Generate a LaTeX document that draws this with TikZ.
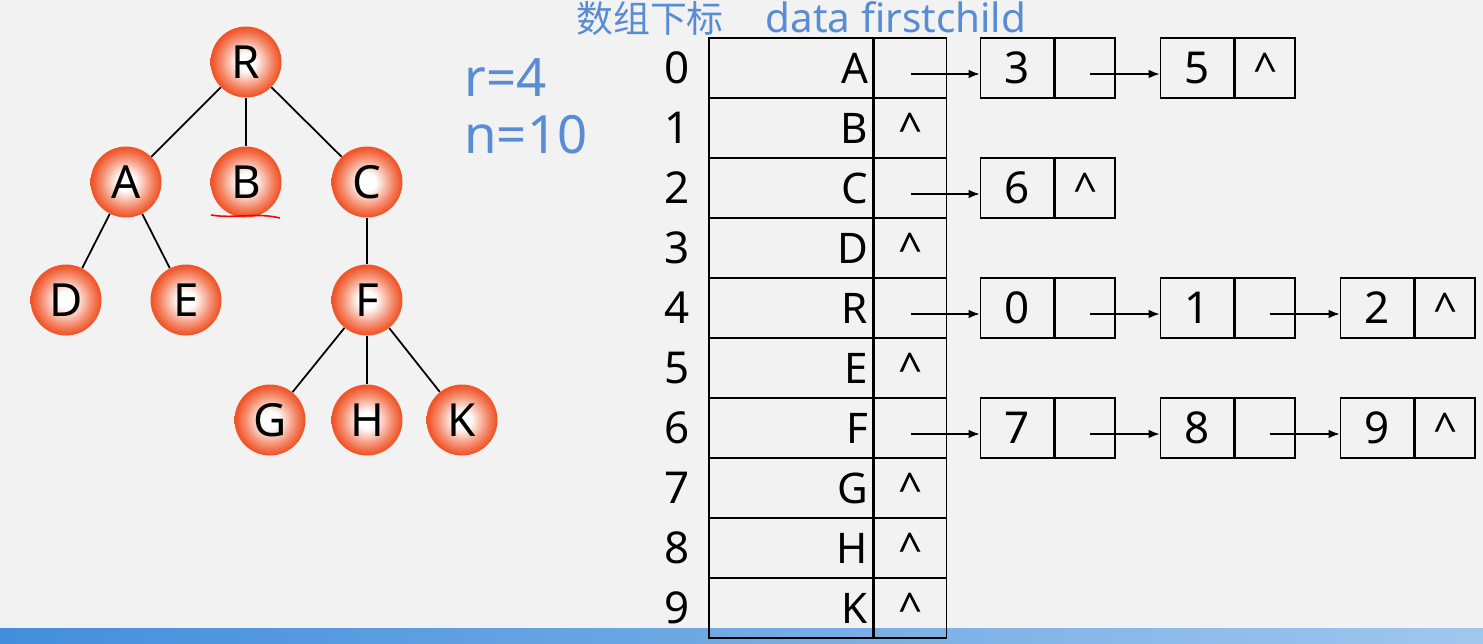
\documentclass[tikz,border=0pt]{standalone}
\usepackage{fontspec}
\setmainfont{Noto Sans}
\newfontfamily\cjk{Noto Sans CJK SC}
\usetikzlibrary{positioning,arrows.meta}

\definecolor{pagebg}{RGB}{242,242,242}
\definecolor{noteblue}{RGB}{88,140,212}
\definecolor{ballred}{RGB}{240,86,42}
\definecolor{barblue}{RGB}{66,142,220}
\pgfdeclareradialshading{redball}{\pgfpoint{0bp}{0bp}}{color(0bp)=(white); color(6bp)=(white); color(18bp)=(ballred!70!white); color(24bp)=(ballred); color(50bp)=(ballred)}

\newcommand{\nullsign}{\textasciicircum}

\tikzset{
  treenode/.style={circle, minimum size=1.42cm, inner sep=0pt, shade, shading=redball,
    font=\fontsize{26}{28}\selectfont},
  treeline/.style={line width=1pt},
  note/.style={text=noteblue, inner sep=0pt},
  datacell/.style={draw, line width=0.9pt, minimum height=1.2cm, text width=3.08cm,
    inner xsep=0.1cm, align=right, font=\fontsize{24}{26}\selectfont},
  linkcell/.style={draw, line width=0.9pt, minimum height=1.2cm, minimum width=1.44cm,
    inner sep=0pt, font=\fontsize{24}{26}\selectfont},
  indexnum/.style={inner sep=0pt, font=\fontsize{25}{27}\selectfont},
  numcell/.style={draw, line width=0.9pt, minimum height=1.2cm, minimum width=1.46cm,
    inner sep=0pt, font=\fontsize{25}{27}\selectfont},
  ptrcell/.style={draw, line width=0.9pt, minimum height=1.2cm, minimum width=1.2cm,
    inner sep=0pt, font=\fontsize{24}{26}\selectfont},
  link/.style={line width=0.9pt, -{Latex[length=0.22cm,width=0.17cm]}}
}

\begin{document}
\begin{tikzpicture}[x=0.02cm, y=-0.02cm]
  \useasboundingbox[fill=pagebg] (0,0) rectangle (1483,643);
  \fill[left color=barblue, right color=barblue!50!white] (0,628) rectangle (1483,643);

  % tree
  \draw
    (246,62) node[treenode] (R){R}
    (126,182) node[treenode] (A){A}
    (246,182) node[treenode] (B){B}
    (367,182) node[treenode] (C){C}
    (66,300) node[treenode] (D){D}
    (186,300) node[treenode] (E){E}
    (367,300) node[treenode] (F){F}
    (270,420) node[treenode] (G){G}
    (367,420) node[treenode] (H){H}
    (462,420) node[treenode] (K){K};
  \begin{scope}[treeline]
    \draw (R) to (A);
    \draw (R) to (B);
    \draw (R) to (C);
    \draw (A) to (D);
    \draw (A) to (E);
    \draw (C) to (F);
    \draw (F) to (G);
    \draw (F) to (H);
    \draw (F) to (K);
  \end{scope}
  \draw[red, line width=0.9pt] (211,215) .. controls (235,219) and (255,212) .. (280,218);

  \node[note, anchor=west, font=\fontsize{30}{32}\selectfont] (rval) at (464,78) {r=4};
  \node[note, anchor=west, font=\fontsize{30}{32}\selectfont] (nval) at (464,135) {n=10};

  % headers
  \node[note, font=\cjk\fontsize{21}{23}\selectfont] (idxhead) at (650,19) {数组下标};
  \node[note, font=\fontsize{23}{25}\selectfont] (colhead) at (896,17) {data firstchild};

  % array of heads
  \foreach \ch/\fc [count=\i from 0] in {A/{},B/\nullsign,C/{},D/\nullsign,R/{},
      E/\nullsign,F/{},G/\nullsign,H/\nullsign,K/\nullsign} {
    \node[datacell] (d\i) at (791,68+60*\i) {\ch};
    \node[linkcell, right=0pt of d\i] (f\i) {\fc};
    \node[indexnum] (i\i) at (677,68+60*\i) {\i};
  }

  % child lists
  \node[numcell] (b3) at (1017,68) {3};
  \node[ptrcell, right=0pt of b3] (p3) {};
  \node[numcell] (b5) at (1197,68) {5};
  \node[ptrcell, right=0pt of b5] (p5) {\nullsign};
  \node[numcell] (b6) at (1017,188) {6};
  \node[ptrcell, right=0pt of b6] (p6) {\nullsign};
  \node[numcell] (b0) at (1017,308) {0};
  \node[ptrcell, right=0pt of b0] (p0) {};
  \node[numcell] (b1) at (1197,308) {1};
  \node[ptrcell, right=0pt of b1] (p1) {};
  \node[numcell] (b2) at (1377,308) {2};
  \node[ptrcell, right=0pt of b2] (p2) {\nullsign};
  \node[numcell] (b7) at (1017,428) {7};
  \node[ptrcell, right=0pt of b7] (p7) {};
  \node[numcell] (b8) at (1197,428) {8};
  \node[ptrcell, right=0pt of b8] (p8) {};
  \node[numcell] (b9) at (1377,428) {9};
  \node[ptrcell, right=0pt of b9] (p9) {\nullsign};

  \begin{scope}[link]
    \draw ([yshift=-0.12cm]f0.center) -- ([yshift=-0.12cm]b3.west);
    \draw ([xshift=0.1cm,yshift=-0.12cm]p3.center) -- ([yshift=-0.12cm]b5.west);
    \draw ([yshift=-0.12cm]f2.center) -- ([yshift=-0.12cm]b6.west);
    \draw ([yshift=-0.12cm]f4.center) -- ([yshift=-0.12cm]b0.west);
    \draw ([xshift=0.1cm,yshift=-0.12cm]p0.center) -- ([yshift=-0.12cm]b1.west);
    \draw ([xshift=0.1cm,yshift=-0.12cm]p1.center) -- ([yshift=-0.12cm]b2.west);
    \draw ([yshift=-0.12cm]f6.center) -- ([yshift=-0.12cm]b7.west);
    \draw ([xshift=0.1cm,yshift=-0.12cm]p7.center) -- ([yshift=-0.12cm]b8.west);
    \draw ([xshift=0.1cm,yshift=-0.12cm]p8.center) -- ([yshift=-0.12cm]b9.west);
  \end{scope}
\end{tikzpicture}
\end{document}
